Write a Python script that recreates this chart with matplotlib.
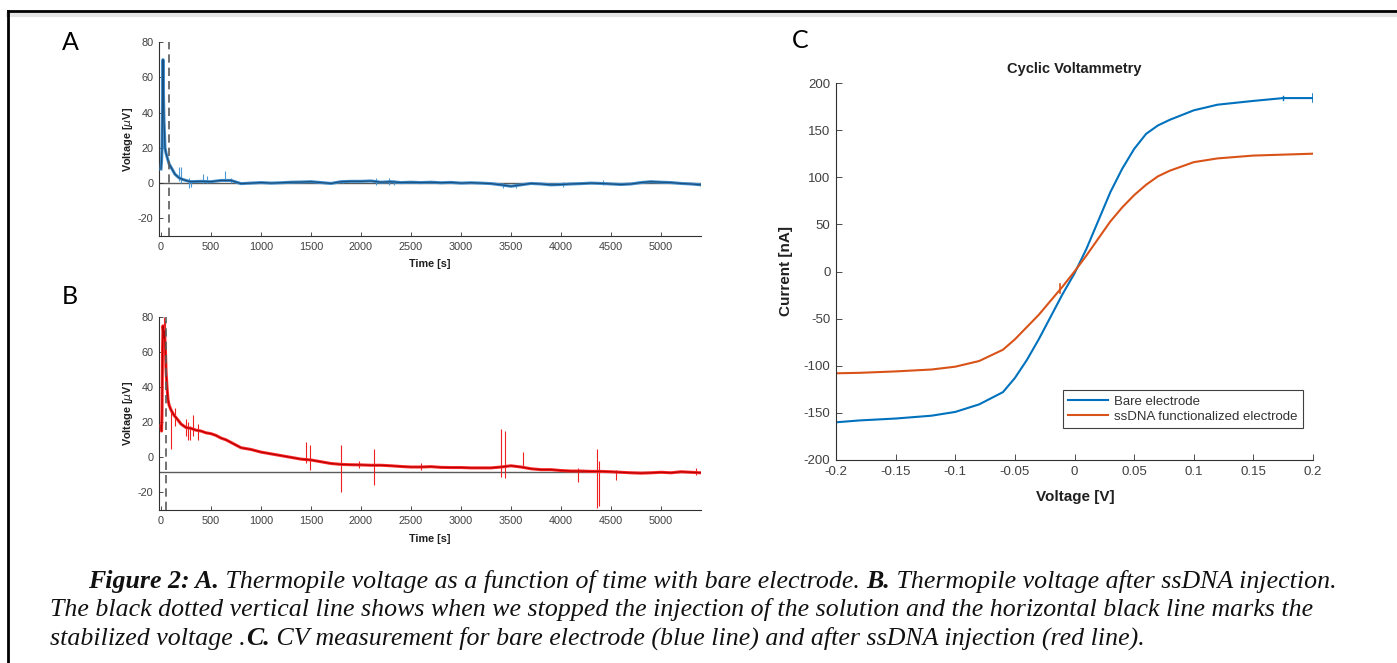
import numpy as np
import matplotlib
matplotlib.use('Agg')
import matplotlib.pyplot as plt
from matplotlib.lines import Line2D

plt.rcParams['axes.unicode_minus'] = False

# ---- panel A: thermopile voltage, bare electrode ----
tA = [0, 5, 10, 15, 20, 25, 30, 35, 40, 50, 60, 70, 80, 100, 120, 140, 160, 180, 200, 220, 250, 280,
      300, 400, 500, 600, 700, 800, 900, 1000, 1100, 1200, 1300, 1400, 1500, 1600, 1700, 1800, 1900,
      2000, 2100, 2200, 2300, 2400, 2500, 2600, 2700, 2800, 2900, 3000, 3100, 3200, 3300, 3400, 3500,
      3600, 3700, 3800, 3900, 4000, 4100, 4200, 4300, 4400, 4500, 4600, 4700, 4800, 4900, 5000, 5100,
      5200, 5300, 5400]
vA = [8, 12, 20, 45, 70, 50, 35, 28, 20, 17, 15, 13, 11, 9, 7, 5, 4, 3, 2.5, 2, 1.5, 1,
      0.8, 1, 0.8, 1.5, 1.5, -0.3, 0, 0.3, 0, 0.2, 0.5, 0.6, 0.8, 0.3, -0.2, 0.8, 1,
      1, 1.2, 0.5, 0.8, 0.3, 0.5, 0.3, 0.5, 0.2, 0.4, 0, 0.2, 0, -0.3, -1, -1.8,
      -1, -0.2, -0.5, -1, -0.8, -0.5, -0.3, 0, -0.2, -0.5, -0.8, -0.5, 0.3, 0.8, 0.5, 0.3,
      -0.2, -0.5, -1]
# spikes: time, low, high
spikeA_t = [180, 200, 280, 300, 420, 460, 640, 700, 1820, 2150, 2280, 2330, 3420, 3550, 4020, 4420, 5400]
spikeA_lo = [1, 0, -3, -2, 0, 0, 1, 0, 0, -1, -1, -1, -3, -2.5, -2, -1, -4]
spikeA_hi = [9, 9, 3, 2, 5, 4, 7, 3, 2, 3, 3, 2, 0, 0, 0.5, 2, 1]
stopA = 75
levelA = 0

# ---- panel B: thermopile voltage after ssDNA injection ----
tB = [0, 5, 10, 15, 20, 25, 30, 35, 40, 45, 50, 60, 70, 80, 100, 130, 160, 200, 250, 300, 350, 400,
      450, 500, 550, 600, 650, 700, 750, 800, 900, 1000, 1100, 1200, 1300, 1400, 1500, 1600, 1700,
      1800, 1900, 2000, 2100, 2200, 2300, 2400, 2500, 2600, 2700, 2800, 2900, 3000, 3100, 3200, 3300,
      3400, 3500, 3600, 3700, 3800, 3900, 4000, 4100, 4200, 4300, 4400, 4500, 4600, 4700, 4800, 4900,
      5000, 5100, 5200, 5300, 5400]
vB = [18, 15, 25, 60, 75, 72, 68, 72, 65, 60, 50, 40, 33, 30, 27, 24, 22, 19, 17, 16.5, 15.5, 15,
      14, 13.5, 12.5, 11, 10, 8.5, 7, 5.5, 4.5, 3, 2, 1, 0, -1, -1.5, -2.5, -3.5,
      -4, -4.2, -4.3, -4.5, -4.5, -4.8, -5.2, -5.5, -5.5, -5.3, -5.7, -5.8, -5.8, -6, -6, -6,
      -5.5, -4.8, -5.5, -6.5, -7, -7, -7.5, -7.8, -7.8, -8, -8, -8.2, -8.5, -8.8, -9, -8.8,
      -8.5, -8.8, -8.2, -8.5, -8.8]
spikeB_t = [10, 25, 40, 100, 140, 250, 270, 290, 320, 370, 1450, 1490, 1800, 1980, 2130, 2600,
            3400, 3440, 3620, 4170, 4360, 4380, 4550, 5350]
spikeB_lo = [15, 60, 55, 5, 18, 12, 10, 10, 12, 10, -3, -7, -20, -6, -16, -7,
             -11, -12, -5, -14, -29, -28, -13, -10]
spikeB_hi = [25, 80, 78, 28, 28, 22, 20, 18, 24, 19, 9, 7, 7, -2, 5, -3,
             16, 15, 3, -6, 5, -2, -7, -6]
stopB = 50
levelB = -8.2

# ---- panel C: cyclic voltammetry ----
vC = [-0.2, -0.18, -0.15, -0.12, -0.1, -0.08, -0.06, -0.05, -0.04, -0.03, -0.02, -0.01, 0,
      0.01, 0.02, 0.03, 0.04, 0.05, 0.06, 0.07, 0.08, 0.1, 0.12, 0.15, 0.175, 0.2]
bare = [-160, -158, -156, -153, -149, -141, -128, -113, -94, -72, -48, -24, -2,
        24, 54, 84, 109, 130, 146, 155, 161, 171, 177, 181, 184, 184]
ssdna = [-108, -107.5, -106, -104, -101, -95, -83, -72, -59, -46, -31, -16, 0,
         17, 35, 53, 68, 81, 92, 101, 107, 116, 120, 123, 124, 125]

W, H = 1397, 663
fig = plt.figure(figsize=(W / 100, H / 100), dpi=100)
fig.patch.set_facecolor('white')

def px_axes(l, t, r, b):
    return fig.add_axes([l / W, 1 - b / H, (r - l) / W, (b - t) / H])

def ftext(x, y, s, **kw):
    return fig.text(x / W, 1 - y / H, s, **kw)

SANS = 'Liberation Sans'
TICKC = '#404040'

def style_axes(ax, size):
    for side in ['top', 'right']:
        ax.spines[side].set_visible(False)
    for side in ['left', 'bottom']:
        ax.spines[side].set_color('#303030')
        ax.spines[side].set_linewidth(0.8)
    ax.tick_params(direction='in', length=3, width=0.6, color='#303030',
                   labelsize=size, labelcolor=TICKC, pad=4)
    for lab in ax.get_xticklabels() + ax.get_yticklabels():
        lab.set_family(SANS)

def time_panel(ax, t, v, st, slo, shi, stop, level, band, core, spike):
    ax.axhline(level, color='#5a5a5a', lw=1.0, zorder=1)
    ax.vlines(st, slo, shi, color=spike, lw=0.8, zorder=2)
    ax.plot(t, v, color=band, lw=2.2, zorder=3, solid_joinstyle='round')
    ax.plot(t, v, color=core, lw=0.9, zorder=4)
    ax.axvline(stop, color='#5a5a5a', lw=1.2, ls=(0, (5, 3)), zorder=5)
    ax.set_xlim(-20, 5400)
    ax.set_ylim(-30, 80)
    ax.set_xticks(np.arange(0, 5001, 500))
    ax.set_yticks([-20, 0, 20, 40, 60, 80])
    style_axes(ax, 7.8)

axA = px_axes(159, 42, 701, 236)
time_panel(axA, tA, vA, spikeA_t, spikeA_lo, spikeA_hi, stopA, levelA,
           '#3f8fd0', '#1c4f7c', '#4a9ad8')
axB = px_axes(159, 317, 701, 510)
time_panel(axB, tB, vB, spikeB_t, spikeB_lo, spikeB_hi, stopB, levelB,
           '#ff2a2a', '#b80000', '#ee2020')

for yc, tc in [(139, 264), (413, 539)]:
    ftext(128, yc, 'Voltage [$\\mu$V]', rotation=90, ha='center', va='center',
          fontsize=7.8, weight='bold', family=SANS, color='#202020')
    ftext(430, tc, 'Time [s]', ha='center', va='center', fontsize=7.8,
          weight='bold', family=SANS, color='#202020')

# panel C
axC = px_axes(836, 83, 1313, 460)
axC.plot(vC, bare, color='#0072BD', lw=1.5, label='Bare electrode')
axC.plot(vC, ssdna, color='#D95319', lw=1.5, label='ssDNA functionalized electrode')
axC.plot([-0.012, -0.012], [-23, -13], color='#D95319', lw=1.2)
axC.plot([0.2, 0.2], [180, 188], color='#0072BD', lw=1.2)
axC.plot([0.175, 0.175], [182, 186], color='#0072BD', lw=1.0)
axC.set_xlim(-0.2, 0.2)
axC.set_ylim(-200, 200)
axC.set_xticks([-0.2, -0.15, -0.1, -0.05, 0, 0.05, 0.1, 0.15, 0.2])
axC.set_xticklabels(['-0.2', '-0.15', '-0.1', '-0.05', '0', '0.05', '0.1', '0.15', '0.2'])
axC.set_yticks(np.arange(-200, 201, 50))
style_axes(axC, 9.5)
axC.tick_params(length=4)
leg = axC.legend(loc='upper left', bbox_to_anchor=((1063 - 836) / 477, (460 - 390) / 377),
                 borderaxespad=0, fancybox=False, framealpha=1, edgecolor='#404040',
                 prop={'family': SANS, 'size': 9.5}, handlelength=3.0, borderpad=0.4,
                 labelspacing=0.25, handletextpad=0.5)
leg.get_frame().set_linewidth(0.8)
for txt in leg.get_texts():
    txt.set_color('#333333')

ftext(1074, 69, 'Cyclic Voltammetry', ha='center', va='center', fontsize=10.5,
      weight='bold', family=SANS, color='#202020')
ftext(786, 271, 'Current [nA]', rotation=90, ha='center', va='center', fontsize=11,
      weight='bold', family=SANS, color='#202020')
ftext(1075, 497, 'Voltage [V]', ha='center', va='center', fontsize=11,
      weight='bold', family=SANS, color='#202020')

# panel letters
for x, y, s in [(70, 42, 'A'), (70, 296, 'B'), (800, 40, 'C')]:
    ftext(x, y, s, ha='center', va='center', fontsize=18, family='Lato', color='black')

# frame lines of the figure box
fig.add_artist(Line2D([8 / W, 1], [1 - 15 / H] * 2, color='#e4e4e4', lw=3))
fig.add_artist(Line2D([8 / W, 1], [1 - 11 / H] * 2, color='black', lw=2))
fig.add_artist(Line2D([8 / W] * 2, [0, 1 - 11 / H], color='black', lw=2))

# caption
renderer = fig.canvas.get_renderer()
SERIF = 'Liberation Serif'

def run_width(s, weight, size):
    t1 = fig.text(0, 0, s + '|', fontsize=size, family=SERIF, style='italic', weight=weight)
    t2 = fig.text(0, 0, '|', fontsize=size, family=SERIF, style='italic', weight=weight)
    w = t1.get_window_extent(renderer).width - t2.get_window_extent(renderer).width
    t1.remove()
    t2.remove()
    return w

lines = [
    (88, 588, [('Figure 2: A.', 'bold'),
               (' Thermopile voltage as a function of time with bare electrode. ', 'normal'),
               ('B.', 'bold'),
               (' Thermopile voltage after ssDNA injection.', 'normal')]),
    (50, 616, [('The black dotted vertical line shows when we stopped the injection of the '
                'solution and the horizontal black line marks the', 'normal')]),
    (50, 645, [('stabilized voltage .', 'normal'), ('C.', 'bold'),
               (' CV measurement for bare electrode (blue line) and after ssDNA injection (red line).',
                'normal')]),
]
size = 10 * 1262 / run_width(lines[1][2][0][0], 'normal', 10)
for x0, yb, runs in lines:
    x = x0
    for s, weight in runs:
        ftext(x, yb, s, fontsize=size, family=SERIF, style='italic', weight=weight,
              va='baseline', ha='left', color='#111111')
        x += run_width(s, weight, size)

fig.savefig('out.png', dpi=100)
